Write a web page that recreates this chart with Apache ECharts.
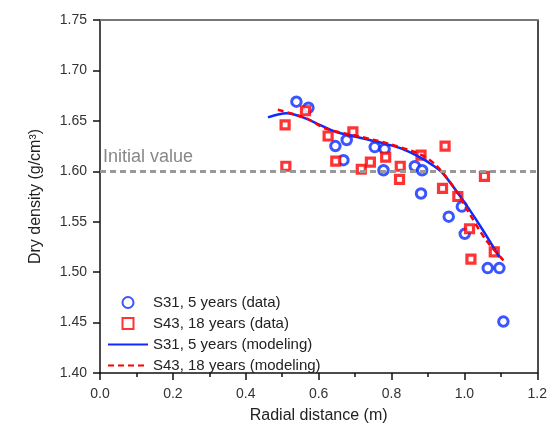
<!DOCTYPE html>
<html>
<head>
<meta charset="utf-8">
<script src="https://cdn.jsdelivr.net/npm/echarts@6/dist/echarts.min.js"></script>
<style>
html,body{margin:0;padding:0;background:#fff;}
#chart{width:550px;height:429px;}
</style>
</head>
<body>
<div id="chart"></div>
<script>
// ---- data ----
const s31DataX = [0.539,0.572,0.646,0.677,0.668,0.754,0.781,0.778,0.864,0.884,0.881,0.957,0.993,1.001,1.064,1.096,1.107];
const s31DataY = [1.669,1.663,1.625,1.631,1.611,1.624,1.622,1.601,1.605,1.601,1.578,1.555,1.565,1.538,1.504,1.504,1.451];

const s43DataX = [0.508,0.510,0.564,0.626,0.647,0.694,0.717,0.742,0.784,0.822,0.824,0.881,0.940,0.947,0.982,1.014,1.018,1.055,1.082];
const s43DataY = [1.646,1.605,1.660,1.635,1.610,1.639,1.602,1.609,1.614,1.592,1.605,1.616,1.583,1.625,1.575,1.543,1.513,1.595,1.520];

const s31ModelX = [0.461,0.512,0.557,0.603,0.648,0.694,0.740,0.785,0.831,0.877,0.913,0.941,0.977,1.014,1.050,1.096];
const s31ModelY = [1.6535,1.6575,1.6535,1.646,1.639,1.635,1.631,1.627,1.622,1.614,1.606,1.598,1.581,1.562,1.542,1.515];

const s43ModelX = [0.488,0.566,0.621,0.694,0.785,0.877,0.922,0.977,1.014,1.059,1.114];
const s43ModelY = [1.661,1.6525,1.642,1.636,1.628,1.617,1.606,1.581,1.558,1.532,1.509];

const initialValue = 1.60;
const seriesNames = ['S31, 5 years (data)','S43, 18 years (data)','S31, 5 years (modeling)','S43, 18 years (modeling)'];
const xTicks = {min:0, max:1.2, interval:0.2};
const yTicks = {min:1.40, max:1.75, interval:0.05};

const zip = (xs, ys) => xs.map((x, i) => [x, ys[i]]);

const BLUE = '#0a2cff';
const RED = '#ff0000';
const FONT = 'Liberation Sans, Arial, sans-serif';
const SQUARE = 'path://M0,0H10V10H0Z';

const chart = echarts.init(document.getElementById('chart'), null, {renderer:'canvas'});
chart.setOption({
  animation:false,
  backgroundColor:'#fff',
  textStyle:{fontFamily:FONT},
  grid:{left:100, right:12, top:20, bottom:56, containLabel:false},
  legend:{
    orient:'vertical', left:102, top:290,
    itemWidth:40, itemHeight:11, itemGap:6,
    textStyle:{fontSize:15, color:'#222', fontFamily:FONT},
    data:[
      {name:seriesNames[0]},
      {name:seriesNames[1], icon:SQUARE},
      {name:seriesNames[2], itemStyle:{opacity:0}},
      {name:seriesNames[3], itemStyle:{opacity:0}}
    ]
  },
  xAxis:[{
    type:'value', min:xTicks.min, max:xTicks.max, interval:xTicks.interval,
    name:'Radial distance (m)', nameLocation:'middle', nameGap:35,
    nameTextStyle:{fontSize:16, color:'#222', fontFamily:FONT},
    axisLine:{show:true, onZero:false, lineStyle:{color:'#111', width:1.5}},
    axisTick:{show:true, inside:false, length:7, lineStyle:{color:'#111', width:1.5}},
    minorTick:{show:true, splitNumber:2, length:4, lineStyle:{color:'#111', width:1.5}},
    axisLabel:{fontSize:14, color:'#333', margin:14, formatter:v=>v.toFixed(1)},
    splitLine:{show:false}
  },{
    type:'value', position:'top', min:xTicks.min, max:xTicks.max,
    axisLine:{show:true, onZero:false, lineStyle:{color:'#777', width:2}},
    axisTick:{show:false}, axisLabel:{show:false}, splitLine:{show:false}
  }],
  yAxis:[{
    type:'value', min:yTicks.min, max:yTicks.max, interval:yTicks.interval,
    name:'Dry density (g/cm³)', nameLocation:'middle', nameGap:56,
    nameTextStyle:{fontSize:16, color:'#222', fontFamily:FONT},
    axisLine:{show:true, onZero:false, lineStyle:{color:'#111', width:1.5}},
    axisTick:{show:true, inside:false, length:7, lineStyle:{color:'#111', width:1.5}},
    axisLabel:{fontSize:14, color:'#333', margin:13, formatter:v=>v.toFixed(2)},
    splitLine:{show:false}
  },{
    type:'value', position:'right', min:yTicks.min, max:yTicks.max,
    axisLine:{show:true, onZero:false, lineStyle:{color:'#111', width:1.5}},
    axisTick:{show:false}, axisLabel:{show:false}, splitLine:{show:false}
  }],
  series:[
    {
      name:seriesNames[0], type:'scatter', data:zip(s31DataX, s31DataY),
      symbol:'circle', symbolSize:9.5,
      itemStyle:{color:'#fff', borderColor:BLUE, borderWidth:3},
      z:3,
      markLine:{
        silent:true, symbol:'none',
        lineStyle:{color:'#999', type:[6,4], width:3},
        label:{show:true, position:'insideStartTop', formatter:'Initial value', color:'#888', fontSize:18, fontFamily:FONT, distance:[3,5]},
        data:[{yAxis:initialValue}]
      }
    },
    {
      name:seriesNames[1], type:'scatter', data:zip(s43DataX, s43DataY),
      symbol:'rect', symbolSize:8,
      itemStyle:{color:'#fff', borderColor:RED, borderWidth:3.2},
      z:3
    },
    {
      name:seriesNames[2], type:'line', data:zip(s31ModelX, s31ModelY),
      symbol:'none', smooth:0.3,
      lineStyle:{color:BLUE, width:2.5, type:'solid'},
      itemStyle:{color:BLUE},
      z:4
    },
    {
      name:seriesNames[3], type:'line', data:zip(s43ModelX, s43ModelY),
      symbol:'none', smooth:0.3,
      lineStyle:{color:RED, width:2.5, type:[6,4]},
      itemStyle:{color:RED},
      z:5
    }
  ]
});
</script>
</body>
</html>
